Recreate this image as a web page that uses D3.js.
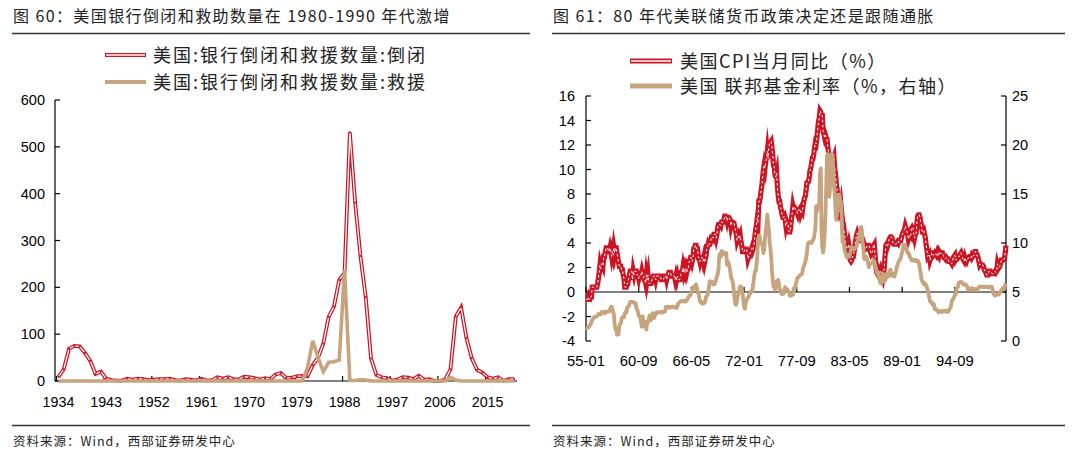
<!DOCTYPE html>
<html><head><meta charset="utf-8">
<script src="https://cdn.jsdelivr.net/npm/d3@7"></script>
<style>
body{margin:0;background:#fff;}
svg{display:block;}
.cjk{font-family:"Noto Sans CJK SC","Noto Sans",sans-serif;}
.num{font-family:"Liberation Sans",Arial,sans-serif;}
</style></head><body>
<svg id="c" width="1075" height="457"></svg>
<script>
// ---------- Chart 60 data ----------
const years = d3.range(1934, 2021);
const closures = [9,25,69,75,74,60,43,15,20,5,2,1,1,5,3,5,4,2,3,4,4,5,2,1,4,3,1,5,1,2,8,5,8,4,3,9,8,6,3,6,4,14,17,6,7,10,11,10,34,50,80,137,159,216,231,531,381,267,179,48,13,8,6,1,3,8,7,4,11,3,4,0,0,3,25,138,157,92,49,24,18,8,5,8,0,4,4];
const assistance = [0,0,0,0,0,0,0,0,0,0,0,0,0,0,0,0,0,0,0,0,0,0,0,0,0,0,0,0,0,0,0,0,0,0,0,0,0,0,0,0,0,0,0,0,0,0,0,28,86,50,20,40,41,45,238,1,1,3,2,0,0,0,0,0,0,0,0,0,0,0,0,0,0,0,8,2,0,0,0,0,0,0,0,0,0,0,0];
const yearTicks = [1934,1943,1952,1961,1970,1979,1988,1997,2006,2015];
const leftYTicks = [0,100,200,300,400,500,600];

// ---------- Chart 61 data (monthly from 1955-01) ----------
const cpi = [
-0.6,-0.6,-0.6,-0.4,-0.6,-0.6,-0.4,-0.4,0.4,0.4,0.4,0.4,
0.4,0.4,0.4,0.7,1.1,1.6,2.2,1.9,2.1,2.4,2.2,2.9,
2.9,3.3,3.6,3.6,3.6,3.3,3.3,3.6,3.3,2.9,3.3,3.0,
3.6,3.2,3.6,3.6,3.2,2.8,2.4,2.1,2.1,2.1,1.8,1.8,
1.4,1.1,0.4,0.4,0.4,0.7,0.7,1.1,1.4,1.7,1.7,1.7,
1.0,1.7,1.4,1.7,1.7,1.7,1.4,1.4,1.1,1.4,1.4,1.4,
1.7,1.4,1.4,1.0,1.0,0.7,1.4,1.0,1.4,0.7,0.7,0.7,
0.7,1.0,1.0,1.3,1.3,1.3,1.0,1.3,1.3,1.3,1.3,1.3,
1.3,1.0,1.0,1.0,1.0,1.3,1.3,1.3,1.0,1.3,1.3,1.6,
1.6,1.6,1.3,1.3,1.3,1.3,1.3,1.0,1.3,1.0,1.3,1.0,
1.0,1.0,1.3,1.6,1.6,2.0,1.6,1.9,1.6,1.9,1.6,1.9,
1.9,2.5,2.5,2.8,2.8,2.5,2.8,3.5,3.5,3.8,3.8,3.5,
3.5,2.8,2.8,2.5,2.8,2.8,2.8,2.5,2.8,2.4,2.7,3.0,
3.7,3.7,4.0,3.9,3.9,4.2,4.5,4.5,4.4,4.7,4.7,4.7,
4.4,4.7,5.3,5.5,5.5,5.5,5.4,5.7,5.7,5.7,5.9,6.2,
6.2,6.1,5.8,6.1,6.1,6.0,5.9,5.4,5.7,5.7,5.6,5.6,
5.3,5.0,4.7,4.2,4.4,4.6,4.4,4.6,4.1,3.8,3.3,3.3,
3.3,3.5,3.5,3.5,3.2,2.7,2.9,2.9,3.2,3.4,3.6,3.4,
3.6,3.9,4.6,5.1,5.5,6.0,5.7,7.4,7.4,7.8,8.3,8.7,
9.4,10.0,10.4,10.1,10.7,10.9,11.5,10.9,11.9,12.1,12.2,12.3,
11.8,11.2,10.3,10.2,9.5,9.4,9.7,8.6,7.9,7.4,7.4,6.9,
6.7,6.3,6.1,6.1,6.2,5.9,5.4,5.7,5.5,5.5,4.9,4.9,
5.2,5.9,6.4,7.0,6.7,6.9,6.8,6.6,6.6,6.4,6.7,6.7,
6.8,6.4,6.6,6.5,7.0,7.4,7.7,7.8,8.3,8.9,8.9,9.0,
9.3,9.9,10.1,10.5,10.9,10.9,11.3,11.8,12.2,12.1,12.6,13.3,
13.9,14.2,14.8,14.7,14.4,14.4,13.1,12.9,12.6,12.8,12.6,12.5,
11.8,11.4,10.5,10.0,9.8,9.6,10.8,10.8,11.0,10.1,9.6,8.9,
8.4,7.6,6.8,6.5,6.7,7.1,6.4,5.9,5.0,5.1,4.6,3.8,
3.7,3.5,3.6,3.9,3.5,2.6,2.5,2.6,2.9,2.9,3.3,3.8,
4.2,4.6,4.8,4.6,4.2,4.2,4.2,4.3,4.3,4.3,4.1,3.9,
3.5,3.5,3.7,3.7,3.8,3.8,3.6,3.3,3.1,3.2,3.5,3.8,
3.9,3.1,2.2,1.6,1.5,1.8,1.6,1.6,1.8,1.5,1.3,1.1,
1.5,2.1,3.0,3.8,3.9,3.7,3.9,4.3,4.4,4.5,4.5,4.4,
4.0,3.9,3.9,3.9,3.9,4.0,4.1,4.0,4.2,4.2,4.2,4.4,
4.7,4.8,5.0,5.1,5.4,5.2,5.0,4.7,4.3,4.5,4.7,4.6,
5.2,5.3,5.2,4.7,4.4,4.7,4.8,5.6,6.2,6.3,6.3,6.1,
5.7,5.3,4.9,4.9,5.0,4.7,4.4,3.8,3.4,2.9,3.0,3.1,
2.6,2.8,3.2,3.2,3.0,3.1,3.2,3.1,3.0,3.2,3.0,2.9,
3.3,3.2,3.1,3.2,3.2,3.0,2.8,2.8,2.7,2.8,2.7,2.7,
2.5,2.5,2.5,2.4,2.3,2.5,2.8,2.9,3.0,2.6,2.7,2.7,
2.8,2.9,2.9,3.1,3.2,3.0,2.8,2.6,2.5,2.8,2.6,2.5,
2.7,2.7,2.8,2.9,2.9,2.8,3.0,2.9,3.0,3.0,3.3,3.3,
3.0,3.0,2.8,2.5,2.2,2.3,2.2,2.2,2.2,2.1,1.8,1.7,
1.6,1.4,1.4,1.4,1.7,1.7,1.7,1.6,1.5,1.5,1.5,1.6,
1.7,1.6,1.7,2.3,2.1,2.0,2.1,2.3,2.6,2.6,2.6,2.7,
2.7,3.2,3.8];
const fedFunds = [
1.39,1.29,1.35,1.43,1.43,1.64,1.68,1.96,2.18,2.24,2.35,2.48,
2.45,2.50,2.50,2.62,2.75,2.71,2.75,2.73,2.95,2.96,2.88,2.94,
2.84,3.00,2.96,3.00,3.00,3.00,2.99,3.24,3.47,3.50,3.28,2.98,
2.72,1.67,1.20,1.26,0.63,0.93,0.68,1.53,1.76,1.80,2.27,2.42,
2.48,2.43,2.80,2.96,2.90,3.39,3.47,3.50,3.76,3.98,4.00,3.99,
3.99,3.97,3.84,3.92,3.85,3.32,3.23,2.98,2.60,2.47,2.44,1.98,
1.45,2.54,2.02,1.49,1.98,1.73,1.17,2.00,1.88,2.26,2.61,2.33,
2.15,2.37,2.85,2.78,2.36,2.68,2.71,2.93,2.90,2.90,2.94,2.93,
2.92,3.00,2.98,2.90,3.00,2.99,3.02,3.49,3.48,3.50,3.48,3.38,
3.48,3.48,3.43,3.47,3.50,3.50,3.42,3.50,3.45,3.36,3.52,3.85,
3.90,3.98,4.04,4.09,4.10,4.04,4.09,4.12,4.01,4.08,4.10,4.32,
4.42,4.60,4.65,4.67,4.90,5.17,5.30,5.53,5.40,5.53,5.76,5.40,
4.94,5.00,4.53,4.05,3.94,3.98,3.79,3.90,3.99,3.88,4.13,4.51,
4.61,4.71,5.05,5.76,6.11,6.07,6.03,6.03,5.78,5.91,5.82,6.02,
6.30,6.64,6.79,7.41,8.67,8.90,8.61,9.19,9.15,9.00,8.85,8.97,
8.98,8.98,7.76,8.10,7.95,7.61,7.21,6.61,6.29,6.20,5.60,4.90,
4.14,3.72,3.71,4.16,4.63,4.91,5.31,5.57,5.55,5.20,4.91,4.14,
3.50,3.29,3.83,4.17,4.27,4.46,4.55,4.80,4.87,5.04,5.06,5.33,
5.94,6.58,7.09,7.12,7.84,8.49,10.40,10.50,10.78,10.01,10.03,9.95,
9.65,8.97,9.35,10.51,11.31,11.93,12.92,12.01,11.34,10.06,9.45,8.53,
7.13,6.24,5.54,5.49,5.22,5.55,6.10,6.14,6.24,5.82,5.22,5.20,
4.87,4.77,4.84,4.82,5.29,5.48,5.31,5.29,5.25,5.03,4.95,4.65,
4.61,4.68,4.69,4.73,5.35,5.39,5.42,5.90,6.14,6.47,6.51,6.56,
6.70,6.78,6.79,6.89,7.36,7.60,7.81,8.04,8.45,8.96,9.76,10.03,
10.07,10.06,10.09,10.01,10.24,10.29,10.47,10.94,11.43,13.77,13.18,13.78,
13.82,14.13,17.19,17.61,10.98,9.47,9.03,9.61,10.87,12.81,15.85,18.90,
19.08,15.93,14.70,15.72,18.52,19.10,19.04,17.82,15.87,15.08,13.31,12.37,
13.22,14.78,14.68,14.94,14.45,14.15,12.59,10.12,10.31,9.71,9.20,8.95,
8.68,8.51,8.77,8.80,8.63,8.98,9.37,9.56,9.45,9.48,9.34,9.47,
9.56,9.59,9.91,10.29,10.32,11.06,11.23,11.64,11.30,9.99,9.43,8.38,
8.35,8.50,8.58,8.27,7.97,7.53,7.88,7.90,7.92,7.99,8.05,8.27,
8.14,7.86,7.48,6.99,6.85,6.92,6.56,6.17,5.89,5.85,6.04,6.91,
6.43,6.10,6.13,6.37,6.85,6.73,6.58,6.73,7.22,7.29,6.69,6.77,
6.83,6.58,6.58,6.87,7.09,7.51,7.75,8.01,8.19,8.30,8.35,8.76,
9.12,9.36,9.85,9.84,9.81,9.53,9.24,8.99,9.02,8.84,8.55,8.45,
8.23,8.24,8.28,8.26,8.18,8.29,8.15,8.13,8.20,8.11,7.81,7.31,
6.91,6.25,6.12,5.91,5.78,5.90,5.82,5.66,5.45,5.21,4.81,4.43,
4.03,4.06,3.98,3.73,3.82,3.76,3.25,3.30,3.22,3.10,3.09,2.92,
3.02,3.03,3.07,2.96,3.00,3.04,3.06,3.03,3.09,2.99,3.02,2.96,
3.05,3.25,3.34,3.56,4.01,4.25,4.26,4.47,4.73,4.76,5.29,5.45,
5.53,5.92,5.98,6.05,6.01,6.00,5.85,5.74,5.80,5.76,5.80,5.60,
5.56,5.22,5.31,5.22,5.24,5.27,5.40,5.22,5.30,5.24,5.31,5.29,
5.25,5.19,5.39,5.51,5.50,5.56,5.52,5.54,5.54,5.50,5.52,5.50,
5.56,5.51,5.49,5.45,5.49,5.56,5.54,5.55,5.51,5.07,4.83,4.68,
4.63,4.76,4.81,4.74,4.74,4.76,4.99,5.07,5.22,5.20,5.42,5.30,
5.45,5.73,5.85];
const monthTickLabels = ["55-01","60-09","66-05","72-01","77-09","83-05","89-01","94-09"];
const rightLeftTicks = [-4,-2,0,2,4,6,8,10,12,14,16];
const rightRightTicks = [0,5,10,15,20,25];

const RED = "#CC1424", TAN = "#C6A47E";
const svg = d3.select("#c");

// ---------- Headers / footers ----------
function header(x0, x1, title){
  svg.append("text").attr("class","cjk").attr("x",x0+1).attr("y",22)
    .attr("font-size",16).attr("letter-spacing",1.4).attr("fill","#222").text(title);
  svg.append("line").attr("x1",x0).attr("x2",x1).attr("y1",33.5).attr("y2",33.5)
    .attr("stroke","#333").attr("stroke-width",1.5);
  svg.append("line").attr("x1",x0).attr("x2",x1).attr("y1",425.5).attr("y2",425.5)
    .attr("stroke","#333").attr("stroke-width",1.5);
  svg.append("text").attr("class","cjk").attr("x",x0+1).attr("y",446)
    .attr("font-size",12.5).attr("letter-spacing",1).attr("fill","#222").text("资料来源：Wind，西部证券研发中心");
}
header(12, 530, "图 60：美国银行倒闭和救助数量在 1980-1990 年代激增");
header(552, 1065, "图 61：80 年代美联储货币政策决定还是跟随通胀");

function doubleLine(g, pts, xf, yf, w, wInner, dash){
  const line = d3.line().x(d=>xf(d[0])).y(d=>yf(d[1]));
  g.append("path").attr("d",line(pts)).attr("fill","none").attr("stroke",RED)
    .attr("stroke-width",w).attr("stroke-linejoin","miter").attr("stroke-miterlimit",10);
  const p = g.append("path").attr("d",line(pts)).attr("fill","none").attr("stroke","#fff")
    .attr("stroke-width",wInner).attr("stroke-linejoin","miter");
  if(dash) p.attr("stroke-dasharray",dash);
}

// ---------- Chart 60 ----------
{
  const g = svg.append("g");
  const x = d3.scaleLinear().domain([1933.35, 2020.55]).range([55, 517]);
  const y = d3.scaleLinear().domain([0, 600]).range([381, 100]);
  g.append("line").attr("x1",55).attr("x2",55).attr("y1",y(600)).attr("y2",y(0)).attr("stroke","#000").attr("stroke-width",1.2);
  g.append("line").attr("x1",55).attr("x2",517).attr("y1",y(0)).attr("y2",y(0)).attr("stroke","#000").attr("stroke-width",1.2);
  leftYTicks.forEach(v=>{
    g.append("line").attr("x1",55).attr("x2",60).attr("y1",y(v)).attr("y2",y(v)).attr("stroke","#000").attr("stroke-width",1.2);
    g.append("text").attr("class","num").attr("x",45).attr("y",y(v)+5).attr("text-anchor","end")
      .attr("font-size",14.5).attr("fill","#000").text(v);
  });
  yearTicks.forEach(v=>{
    g.append("line").attr("x1",x(v)-2).attr("x2",x(v)-2).attr("y1",y(0)).attr("y2",y(0)-5).attr("stroke","#000").attr("stroke-width",1.2);
    g.append("text").attr("class","num").attr("x",x(v)).attr("y",407).attr("text-anchor","middle")
      .attr("font-size",14.3).attr("fill","#000").text(v);
  });
  const redPts = years.map((yr,i)=>[yr, closures[i]]);
  doubleLine(g, redPts, x, y, 3.8, 1.3, null);
  g.selectAll("circle.rd").data(redPts).join("circle").attr("class","rd")
    .attr("cx",d=>x(d[0])).attr("cy",d=>y(d[1])).attr("r",1.1).attr("fill",RED);
  const tanLine = d3.line().x((d,i)=>x(years[i])).y(d=>y(d));
  g.append("path").attr("d",tanLine(assistance)).attr("fill","none").attr("stroke",TAN)
    .attr("stroke-width",3.6).attr("stroke-linejoin","miter");
  const lg = svg.append("g");
  lg.append("line").attr("x1",105).attr("x2",146).attr("y1",55).attr("y2",55).attr("stroke",RED).attr("stroke-width",3.8);
  lg.append("line").attr("x1",106).attr("x2",145).attr("y1",55).attr("y2",55).attr("stroke","#fff").attr("stroke-width",1.3);
  lg.append("line").attr("x1",105).attr("x2",146).attr("y1",82).attr("y2",82).attr("stroke",TAN).attr("stroke-width",3.8);
  lg.append("text").attr("class","cjk").attr("x",153).attr("y",62).attr("font-size",18).attr("letter-spacing",2).attr("fill","#222").text("美国:银行倒闭和救援数量:倒闭");
  lg.append("text").attr("class","cjk").attr("x",153).attr("y",89).attr("font-size",18).attr("letter-spacing",2).attr("fill","#222").text("美国:银行倒闭和救援数量:救援");
}

// ---------- Chart 61 ----------
{
  const g = svg.append("g");
  const n = cpi.length;
  const x = d3.scaleLinear().domain([0, n-1]).range([586, 1006]);
  const yL = d3.scaleLinear().domain([-4, 16]).range([341, 96]);
  const yR = d3.scaleLinear().domain([0, 25]).range([341, 96]);
  g.append("line").attr("x1",586).attr("x2",586).attr("y1",yL(16)).attr("y2",yL(-4)).attr("stroke","#000").attr("stroke-width",1.2);
  g.append("line").attr("x1",1006).attr("x2",1006).attr("y1",yR(25)).attr("y2",yR(0)).attr("stroke","#000").attr("stroke-width",1.2);
  g.append("line").attr("x1",586).attr("x2",1006).attr("y1",yL(0)).attr("y2",yL(0)).attr("stroke","#000").attr("stroke-width",1.2);
  rightLeftTicks.forEach(v=>{
    g.append("line").attr("x1",586).attr("x2",591).attr("y1",yL(v)).attr("y2",yL(v)).attr("stroke","#000").attr("stroke-width",1.2);
    g.append("text").attr("class","num").attr("x",575).attr("y",yL(v)+5).attr("text-anchor","end")
      .attr("font-size",14.5).attr("fill","#000").text(v);
  });
  rightRightTicks.forEach(v=>{
    g.append("line").attr("x1",1001).attr("x2",1006).attr("y1",yR(v)).attr("y2",yR(v)).attr("stroke","#000").attr("stroke-width",1.2);
    g.append("text").attr("class","num").attr("x",1012).attr("y",yR(v)+5).attr("text-anchor","start")
      .attr("font-size",14.5).attr("fill","#000").text(v);
  });
  monthTickLabels.forEach(lbl=>{
    const [yy, mm] = lbl.split("-").map(Number);
    const idx = (1900+yy-1955)*12 + (mm-1);
    g.append("line").attr("x1",x(idx)).attr("x2",x(idx)).attr("y1",yL(0)).attr("y2",yL(0)-5).attr("stroke","#000").attr("stroke-width",1.2);
    g.append("text").attr("class","num").attr("x",x(idx)).attr("y",366).attr("text-anchor","middle")
      .attr("font-size",14.8).attr("fill","#000").text(lbl);
  });
  const cpiPts = cpi.map((v,i)=>[i,v]);
  doubleLine(g, cpiPts, x, yL, 5.2, 1.0, "2.5,2.5");
  const tanLine = d3.line().x((d,i)=>x(i)).y(d=>yR(d));
  g.append("path").attr("d",tanLine(fedFunds)).attr("fill","none").attr("stroke",TAN)
    .attr("stroke-width",3.8).attr("stroke-linejoin","round");
  const lg = svg.append("g");
  lg.append("line").attr("x1",630).attr("x2",672).attr("y1",61).attr("y2",61).attr("stroke",RED).attr("stroke-width",4.8);
  lg.append("line").attr("x1",631).attr("x2",671).attr("y1",61).attr("y2",61).attr("stroke","#fff").attr("stroke-width",1.6);
  lg.append("line").attr("x1",630).attr("x2",672).attr("y1",86).attr("y2",86).attr("stroke",TAN).attr("stroke-width",4.8);
  lg.append("text").attr("class","cjk").attr("x",680).attr("y",68).attr("font-size",18).attr("letter-spacing",1.5).attr("fill","#222").text("美国CPI当月同比（%）");
  lg.append("text").attr("class","cjk").attr("x",680).attr("y",93).attr("font-size",18).attr("letter-spacing",1.5).attr("fill","#222").text("美国 联邦基金利率（%，右轴）");
}
</script>
</body></html>
